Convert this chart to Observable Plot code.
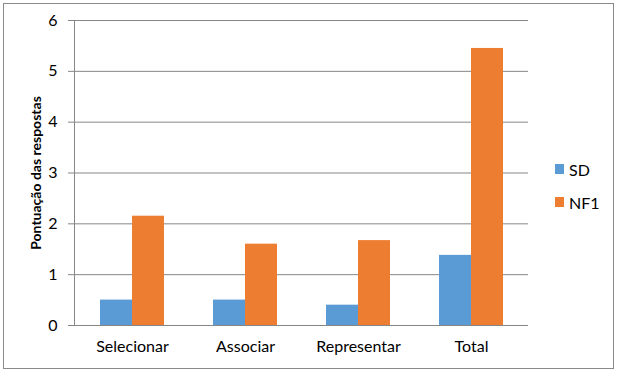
<!DOCTYPE html>
<html>
<head>
<meta charset="utf-8">
<script src="https://cdn.jsdelivr.net/npm/d3@7"></script>
<script src="https://cdn.jsdelivr.net/npm/@observablehq/plot@0.6"></script>
<style>
  body { margin: 0; background: #fff; }
  #wrap { position: relative; width: 620px; height: 373px; font-family: Lato, "Open Sans", sans-serif; }
  #border { position: absolute; left: 3px; top: 3px; width: 611px; height: 366px; box-sizing: border-box; border: 1px solid #8a8a8a; pointer-events: none; }
  #legend { position: absolute; left: 555px; top: 159px; font-size: 16px; color: #000; }
  .item { display: flex; align-items: center; height: 20px; margin-bottom: 13px; }
  .sw { width: 9px; height: 10px; margin-right: 5px; }
</style>
</head>
<body>
<div id="wrap"><div id="chart"></div><div id="legend"></div><div id="border"></div></div>
<script>
const categories = ["Selecionar", "Associar", "Representar", "Total"];
const series = ["SD", "NF1"];
const sdValues = [0.5, 0.5, 0.4, 1.38];
const nf1Values = [2.15, 1.6, 1.67, 5.45];
const yTicks = [0, 1, 2, 3, 4, 5, 6];
const yTitle = "Pontuação das respostas";
const colors = ["#5B9BD5", "#ED7D31"];

const sdData = categories.map((c, i) => ({cat: c, series: "SD", value: sdValues[i]}));
const nfData = categories.map((c, i) => ({cat: c, series: "NF1", value: nf1Values[i]}));

const W = 620, H = 373, mL = 74, mR = 92, mT = 20, mB = 48;
const bandwidth = (W - mL - mR) / categories.length * (1 - 0.436);
const half = bandwidth / 2;

const chart = Plot.plot({
  width: W, height: H,
  marginLeft: mL, marginRight: mR, marginTop: mT, marginBottom: mB,
  style: {fontFamily: "Lato, 'Open Sans', sans-serif", fontSize: "16px", color: "#000", background: "transparent"},
  x: {domain: categories, paddingInner: 0.436, paddingOuter: 0.218, label: null},
  y: {domain: [0, 6], label: null},
  color: {domain: series, range: colors},
  marks: [
    Plot.gridY(yTicks, {stroke: "#868686", strokeOpacity: 1}),
    Plot.axisY(yTicks, {tickSize: 6, tickPadding: 11, stroke: "#868686", fontSize: 16, tickFormat: d3.format("d"), label: null}),
    Plot.text([yTitle], {frameAnchor: "left", textAnchor: "middle", rotate: -90, dx: -38, fontWeight: "bold", fontSize: 14, fill: "#000"}),
    Plot.barY(sdData, {x: "cat", y: "value", fill: "series", insetRight: half}),
    Plot.barY(nfData, {x: "cat", y: "value", fill: "series", insetLeft: half}),
    Plot.ruleY([0], {stroke: "#868686"}),
    Plot.frame({anchor: "left", stroke: "#868686"}),
    Plot.axisX({tickSize: 0, tickPadding: 15, fontSize: 16, label: null})
  ]
});
document.getElementById("chart").appendChild(chart);

const legend = document.getElementById("legend");
series.forEach((s, i) => {
  const item = document.createElement("div");
  item.className = "item";
  item.innerHTML = `<div class="sw" style="background:${colors[i]}"></div><span>${s}</span>`;
  legend.appendChild(item);
});
</script>
</body>
</html>
